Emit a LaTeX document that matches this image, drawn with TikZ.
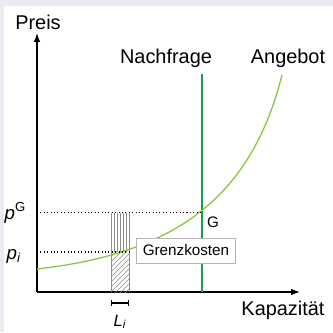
\documentclass[tikz,border=0pt]{standalone}
\usepackage{fontspec}
\setmainfont{Liberation Sans}
\usetikzlibrary{arrows.meta,positioning}
\definecolor{panelgrey}{HTML}{EBEBF4}
\definecolor{demandgreen}{HTML}{1E9B4E}
\definecolor{supplygreen}{HTML}{8CC63F}
\definecolor{boxgrey}{HTML}{B4B4B4}

\begin{document}
\begin{tikzpicture}[x=0.03cm,y=0.03cm,>=Latex,
 axis/.style={-{Latex[length=7.5pt,width=5.5pt]},line width=1.1pt,black},
 big/.style={font=\fontsize{17}{20}\selectfont},
 small/.style={font=\fontsize{13}{15}\selectfont},
 pricelab/.style={anchor=mid east,font=\fontsize{16}{18}\selectfont},
 guide/.style={dotted,line width=0.9pt},
 demand/.style={demandgreen,line width=1.1pt},
 supply/.style={supplygreen,line width=1.1pt},
 strip/.style={black!45,line width=0.4pt},
 costbox/.style={draw=boxgrey,fill=white,line width=0.6pt,minimum width=2.97cm,
 minimum height=0.75cm,font=\fontsize{13}{15}\selectfont}]
\useasboundingbox (0,0) rectangle (333,332);
\fill[panelgrey] (0,0) rectangle (333,332);
\fill[white] (4,0) rectangle (333,326);
% axes
\coordinate (O) at (37,40);
\coordinate (ytop) at (37,299);
\coordinate (xend) at (300,40);
\draw[axis] (O) -- (ytop);
\draw[axis] (O) -- (xend);
\node[big] (preis) at (38,310) {Preis};
\node[big] (kap) at (283,22) {Kapazität};
% strip under the curve
\begin{scope}
\clip (111,40) rectangle (129,80);
\foreach \k in {-4,...,8} {
 \draw[strip] (111,{40+5*\k}) -- ++(25,25);
}
\end{scope}
\draw[strip] (111,40) -- (111,80) (129,40) -- (129,80);
\foreach \k in {0,...,6} {
 \draw[strip] ({111+3*\k},80) -- ({111+3*\k},119.3);
}
% curves
\coordinate (dlow) at (202,40);
\coordinate (dtop) at (202,258);
\coordinate (G) at (202,119.3);
\coordinate (pi) at (129,80);
\coordinate (slow) at (37,63);
\coordinate (stop) at (282,257);
\draw[demand] (dlow) -- (dtop);
\draw[supply] (slow) .. controls (170,78) and (250,130) .. (stop);
\node[big] (nachfrage) at (166,274) {Nachfrage};
\node[big] (angebot) at (288,274) {Angebot};
% price levels
\coordinate (pGaxis) at (37,119.3);
\coordinate (piaxis) at (37,80);
\draw[guide] (pGaxis) -- (G);
\draw[guide] (piaxis) -- (pi);
\node[pricelab] (pG) at (30,116) {\textit{p}\textsuperscript{G}};
\node[pricelab] (plab) at (25,76) {\textit{p}\textsubscript{\textit{i}}};
\node[small] (glab) at (213,110) {G};
\node[costbox] (grenz) at (186,81.5) {Grenzkosten};
% width of the strip
\coordinate (la) at (111,29);
\coordinate (lb) at (129,29);
\draw[{Bar[width=4.5pt]}-{Bar[width=4.5pt]},line width=1.1pt] (la) -- (lb);
\node[font=\fontsize{14}{16}\selectfont] (L) at (120,10) {\textit{L}\textsubscript{\textit{i}}};
\end{tikzpicture}
\end{document}
